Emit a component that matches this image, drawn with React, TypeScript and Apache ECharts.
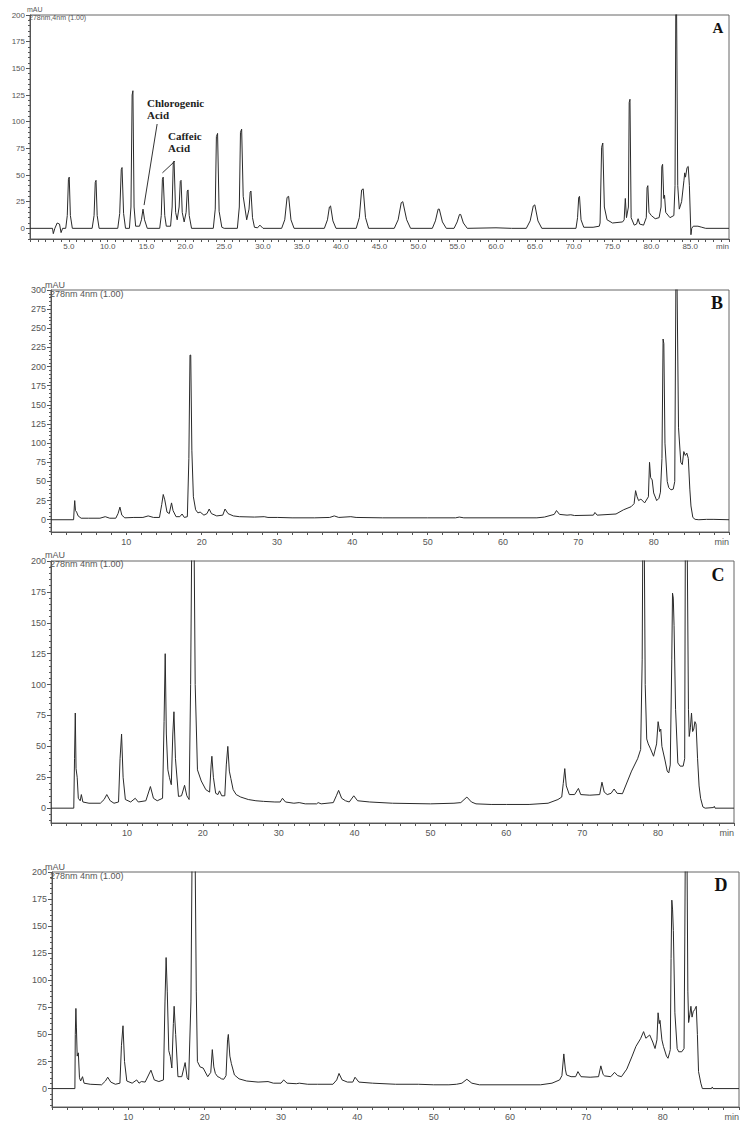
import React, { useEffect, useRef } from "react";
import * as echarts from "echarts";

// ---- Data: [retention time (min), absorbance (mAU)] ----
const traceA: number[][] = [
  [0, 0], [2.9, 0], [3.0, -5], [3.2, 0], [3.5, 5], [3.8, 4], [4.0, -4], [4.2, 0],
  [4.6, 0], [4.8, 12], [4.95, 46], [5.05, 48], [5.2, 12], [5.45, 0],
  [8.0, 0], [8.25, 12], [8.4, 43], [8.5, 45], [8.65, 12], [8.9, 0],
  [11.3, 0], [11.55, 14], [11.75, 55], [11.85, 57], [12.05, 14], [12.3, 0],
  [12.8, 0], [13.0, 20], [13.15, 125], [13.25, 129], [13.4, 20], [13.6, 2],
  [14.1, 2], [14.35, 8], [14.55, 18], [14.75, 8], [15.1, 0],
  [16.7, 0], [16.9, 12], [17.05, 46], [17.15, 48], [17.35, 12], [17.55, 2],
  [18.1, 2], [18.3, 20], [18.45, 62], [18.55, 63], [18.75, 15], [18.95, 8],
  [19.2, 20], [19.35, 44], [19.45, 45], [19.6, 15], [19.85, 6],
  [20.1, 15], [20.25, 35], [20.35, 36], [20.5, 12], [20.8, 0],
  [23.6, 0], [23.85, 18], [24.0, 86], [24.15, 89], [24.35, 16], [24.7, 1], [25.0, 0],
  [26.7, 0], [26.95, 20], [27.1, 90], [27.25, 93], [27.45, 30], [27.9, 8],
  [28.2, 18], [28.35, 34], [28.45, 35], [28.65, 10], [28.9, 1],
  [29.3, 0.5], [29.6, 3], [30.0, 0],
  [32.4, 0], [32.8, 8], [33.1, 29], [33.3, 30], [33.6, 8], [34.0, 0],
  [37.9, 0], [38.3, 8], [38.55, 20], [38.7, 21], [39.0, 7], [39.4, 0],
  [42.0, 0], [42.4, 10], [42.7, 36], [42.9, 37], [43.2, 10], [43.6, 0],
  [46.9, 0], [47.4, 8], [47.8, 24], [48.0, 25], [48.5, 8], [49.0, 0],
  [51.8, 0], [52.2, 7], [52.55, 18], [52.7, 18], [53.1, 6], [53.6, 0],
  [54.6, 0], [55.0, 6], [55.3, 13], [55.45, 13], [55.8, 5], [56.3, 0],
  [60, 0.5], [62, 0],
  [63.9, 0], [64.4, 7], [64.8, 21], [65.0, 22], [65.4, 7], [65.9, 0],
  [70.3, 0], [70.5, 10], [70.65, 29], [70.75, 30], [70.95, 8], [71.3, 1],
  [72.5, 1], [73.3, 2],
  [73.4, 5], [73.6, 76], [73.75, 80], [73.95, 20], [74.3, 8], [75, 5], [76.3, 6],
  [76.5, 8], [76.65, 28], [76.8, 10],
  [77.05, 20], [77.15, 118], [77.25, 121], [77.4, 10], [77.8, 3],
  [78.1, 4], [78.3, 9], [78.5, 4], [79.0, 3],
  [79.35, 10], [79.45, 38], [79.55, 40], [79.7, 15], [80.0, 12], [80.5, 9], [81.0, 10],
  [81.25, 20], [81.35, 58], [81.45, 60], [81.6, 28], [81.7, 31], [81.85, 15], [82.4, 10], [82.9, 12],
  [83.05, 40], [83.15, 205], [83.25, 205], [83.4, 40], [83.6, 18], [83.9, 25], [84.2, 45],
  [84.3, 52], [84.4, 48], [84.6, 57], [84.75, 58], [84.9, 40], [85.05, 5], [85.1, -6],
  [85.2, 0], [85.4, 2], [86.0, 2], [86.5, 1], [87, 0], [90, 0],
];

const traceB: number[][] = [
  [0, 0], [3.0, 0], [3.1, 18], [3.15, 25], [3.25, 12], [3.4, 10], [3.6, 5], [4.0, 2], [5, 2],
  [6.5, 2], [7.2, 4], [7.8, 2], [8.6, 2], [8.9, 8], [9.15, 16.5], [9.4, 6], [9.8, 2.5],
  [11, 3], [12.2, 3], [12.9, 5], [13.6, 3], [14.4, 3], [14.7, 20], [14.9, 33], [15.1, 26],
  [15.4, 10], [15.7, 8], [16.0, 22], [16.2, 12], [16.6, 4], [17.1, 4], [17.4, 7.5], [17.7, 3],
  [18.1, 4], [18.3, 80], [18.45, 215], [18.55, 215], [18.7, 90], [18.9, 30], [19.2, 13],
  [19.5, 9], [19.8, 10], [20.3, 6], [20.7, 8], [21.0, 14], [21.3, 8], [22, 5], [22.8, 6],
  [23.1, 14], [23.5, 8], [24.2, 5], [25, 4], [27, 3.5], [28.3, 4], [28.8, 3], [30.1, 3],
  [32, 2.5], [35, 2.5], [37, 3], [37.6, 5], [38.2, 3], [39.8, 4], [40.5, 3], [44, 2.5],
  [50, 2.5], [53.7, 2.5], [54.2, 3.5], [54.8, 2.5], [60, 2.5], [64.5, 2.5], [65.5, 3.5],
  [66.8, 7], [67.1, 12], [67.5, 7], [68.5, 6], [69, 6.5], [69.5, 5.5], [72, 6], [72.2, 9.5],
  [72.5, 6], [75, 7.5], [76, 13], [77, 17], [77.4, 21], [77.6, 38], [77.8, 30], [78.0, 25],
  [78.3, 27], [78.8, 22], [79.3, 30], [79.45, 75], [79.6, 55], [79.8, 52], [80.0, 35],
  [80.4, 25], [80.7, 28], [80.9, 36], [81.1, 80], [81.25, 236], [81.35, 230], [81.5, 100],
  [81.8, 50], [82.0, 42], [82.3, 39], [82.6, 40], [82.8, 50], [82.95, 310], [83.1, 310],
  [83.3, 120], [83.6, 75], [83.8, 72], [84.0, 89], [84.2, 84], [84.4, 87], [84.6, 80],
  [84.8, 40], [84.95, 18], [85.2, 3], [85.5, 0.5], [86, 0], [87, 0.5], [88, 0.5], [90, 0],
];

const traceC: number[][] = [
  [0, 0], [3.0, 0], [3.1, 40], [3.2, 77], [3.3, 32], [3.45, 25], [3.6, 8], [3.85, 6], [4.0, 11],
  [4.2, 5], [5, 4], [6.5, 4], [7.0, 7], [7.35, 11], [7.8, 6], [8.3, 4], [8.9, 5], [9.1, 40],
  [9.3, 60], [9.5, 25], [9.8, 7], [10.5, 5], [11.1, 8], [11.5, 5], [12.5, 6], [13.1, 17.5],
  [13.5, 8], [14.0, 6], [14.7, 8], [14.9, 70], [15.05, 125], [15.2, 60], [15.4, 31], [15.6, 25],
  [15.85, 19], [16.05, 60], [16.2, 78], [16.4, 40], [16.8, 9.5], [17.2, 10], [17.6, 18.5],
  [17.9, 10], [18.2, 7], [18.4, 100], [18.6, 260], [18.8, 260], [19.0, 100], [19.3, 31],
  [19.8, 22], [20.4, 15], [20.9, 13], [21.1, 35], [21.2, 42], [21.4, 25], [21.7, 12], [22.0, 11],
  [22.2, 14], [22.5, 10], [22.9, 10], [23.1, 35], [23.3, 50], [23.5, 30], [23.7, 24], [24.0, 15],
  [24.4, 11], [25, 9], [26, 7], [27, 6], [28, 5.5], [29.5, 5], [30.2, 5], [30.5, 8], [30.9, 5],
  [32, 4], [32.7, 4.5], [33.5, 3.5], [35, 3.5], [35.2, 4.5], [35.6, 3.5], [37.2, 4.5], [37.6, 10],
  [37.9, 14.4], [38.3, 8], [38.8, 6], [39.3, 5], [39.9, 10], [40.4, 6], [42, 5], [45, 4], [50, 3.5],
  [53.1, 4], [54, 4.5], [54.8, 9], [55.4, 5], [56, 3.5], [58, 3], [60, 3], [63, 3], [65.5, 4],
  [66.8, 7], [67.3, 9], [67.5, 20], [67.7, 32], [67.9, 18], [68.3, 11], [69, 11], [69.5, 16],
  [69.8, 11], [71, 10.5], [72.3, 11], [72.6, 21], [72.9, 13], [73.3, 11], [73.8, 12], [74.2, 15.5],
  [74.6, 12], [75.3, 11.7], [76.5, 30], [77.3, 40], [77.7, 47.5], [77.9, 120], [78.0, 240],
  [78.15, 240], [78.3, 100], [78.5, 56], [78.7, 52], [79.0, 48], [79.4, 42], [79.8, 52], [80.0, 70],
  [80.2, 62], [80.35, 64], [80.5, 50], [80.9, 39], [81.2, 30], [81.4, 28.5], [81.6, 35], [81.8, 120],
  [81.9, 174], [82.0, 170], [82.1, 148], [82.3, 80], [82.6, 36.6], [82.9, 34], [83.3, 34], [83.5, 40],
  [83.6, 240], [83.8, 240], [84.0, 80], [84.1, 58], [84.25, 65], [84.4, 77], [84.55, 62], [84.7, 64],
  [84.85, 70], [85.0, 68], [85.2, 40], [85.4, 18], [85.6, 8], [85.9, 1], [86.2, 0], [87.3, 0.5],
  [87.4, 1.5], [87.5, 0], [90, 0],
];

const traceD: number[][] = [
  [0, 0], [3.0, 0], [3.05, 50], [3.13, 74], [3.2, 56], [3.3, 30], [3.45, 33], [3.6, 10], [3.75, 7],
  [4.0, 11], [4.2, 5], [5, 4], [6.5, 3.5], [7.0, 7], [7.3, 10.5], [7.7, 6], [8.3, 4], [8.9, 5],
  [9.1, 40], [9.3, 58], [9.5, 25], [9.8, 7], [10.5, 5], [11.1, 8], [11.4, 5], [11.7, 6.5], [12.2, 6],
  [12.96, 17], [13.4, 8], [14.0, 6.5], [14.6, 8], [14.8, 80], [14.95, 121], [15.1, 90], [15.3, 35],
  [15.5, 29.5], [15.7, 19], [15.9, 60], [16.0, 76], [16.2, 50], [16.5, 11], [17.0, 11], [17.44, 24],
  [17.7, 10], [17.9, 8], [18.2, 80], [18.4, 260], [18.7, 260], [18.9, 90], [19.05, 25], [19.4, 20],
  [19.8, 19], [20.4, 11], [20.8, 15], [21.0, 36], [21.2, 20], [21.4, 14], [21.7, 11], [21.9, 10.5],
  [22.2, 9], [22.5, 8.6], [22.8, 12], [23.0, 45], [23.1, 50], [23.3, 30], [23.5, 23], [23.9, 12.6],
  [24.5, 9], [25.5, 7], [27, 6], [28.3, 6.5], [29, 5], [30, 5], [30.35, 8], [30.8, 5], [32, 4.5],
  [32.4, 5], [33.5, 4], [34.8, 4], [36.8, 4], [37.3, 8], [37.6, 14], [38.0, 8], [38.7, 6], [39.4, 6],
  [39.7, 10.5], [40.2, 6], [42, 5], [45, 4], [48, 4], [50, 3.5], [52, 3.5], [53, 4], [53.7, 5],
  [54.35, 8.6], [55.0, 5], [56, 3.5], [60, 3.5], [64, 3.5], [65.5, 5], [66.5, 8], [66.8, 12],
  [67.05, 32], [67.25, 18], [67.4, 12.6], [68, 11], [68.6, 11], [68.9, 15.7], [69.3, 11], [70.5, 10.5],
  [71.6, 11], [71.9, 21], [72.2, 13], [72.4, 11.7], [73.2, 11], [73.7, 15], [74.1, 12], [74.6, 11],
  [75.3, 18], [76.0, 30], [76.5, 39], [77.1, 46], [77.5, 52.6], [77.8, 46.5], [78.3, 49.5], [78.7, 43],
  [79.0, 37], [79.25, 45], [79.4, 70], [79.55, 60], [79.65, 63], [79.9, 45], [80.1, 39], [80.5, 30],
  [80.7, 28], [80.9, 33], [81.0, 36], [81.1, 120], [81.2, 174], [81.3, 165], [81.4, 146], [81.6, 70],
  [81.9, 37], [82.1, 34], [82.5, 34], [82.8, 37], [82.9, 140], [83.0, 260], [83.15, 260], [83.3, 90],
  [83.4, 61], [83.55, 68], [83.7, 76], [83.85, 66], [84.0, 71], [84.2, 73], [84.4, 76], [84.55, 50],
  [84.7, 15.7], [85.0, 5], [85.2, 0], [86.4, 0], [86.5, 1.5], [86.6, 0], [90, 0],
];

// ---- Tick labels ----
const yTicksA = [0, 25, 50, 75, 100, 125, 150, 175, 200];
const yTicksB = [0, 25, 50, 75, 100, 125, 150, 175, 200, 225, 250, 275, 300];
const yTicksC = [0, 25, 50, 75, 100, 125, 150, 175, 200];
const yTicksD = [0, 25, 50, 75, 100, 125, 150, 175, 200];
const panelLetters = ["A", "B", "C", "D"];
const detectorTexts = ["278nm,4nm (1.00)", "278nm 4nm (1.00)", "278nm 4nm (1.00)", "278nm 4nm (1.00)"];

const AXIS = "#555";
const LINE = "#2a2a2a";

function minorTicks(min: number, max: number): number[] {
  const out: number[] = [];
  for (let v = Math.ceil(min / 5) * 5; v <= max; v += 5) out.push(v);
  return out;
}

export default function App() {
  const ref = useRef<HTMLDivElement>(null);
  useEffect(() => {
    if (!ref.current) return;
    const chart = echarts.init(ref.current, null, { renderer: "svg" });

    const panels = [
      { left: 30, top: 15, width: 699, height: 224, ymin: -10, ymax: 200, yt: yTicksA, xint: 5, data: traceA, fs: 8, letter: [718, 28, 15], hdr: [27, 9, 29, 17, 7] },
      { left: 51, top: 290, width: 678, height: 242, ymin: -16, ymax: 300, yt: yTicksB, xint: 10, data: traceB, fs: 9, letter: [717, 303, 18], hdr: [45, 285, 50, 294, 9] },
      { left: 51, top: 561, width: 683, height: 262, ymin: -12, ymax: 200, yt: yTicksC, xint: 10, data: traceC, fs: 9, letter: [718, 575, 18], hdr: [45, 555, 50, 564, 9] },
      { left: 52, top: 872, width: 687, height: 235, ymin: -17, ymax: 200, yt: yTicksD, xint: 10, data: traceD, fs: 9, letter: [721, 885, 18], hdr: [45, 867, 50, 876, 9] },
    ];

    const grid: any[] = [];
    const xAxis: any[] = [];
    const yAxis: any[] = [];
    const series: any[] = [];
    const graphic: any[] = [];

    panels.forEach((p, i) => {
      grid.push({ left: p.left, top: p.top, width: p.width, height: p.height, show: true, borderColor: "#666", borderWidth: 1, backgroundColor: "transparent" });
      xAxis.push({
        type: "value", gridIndex: i, min: 0, max: 90, interval: p.xint,
        axisLine: { show: true, onZero: false, lineStyle: { color: AXIS, width: 1 } },
        axisTick: { show: true, length: 3, lineStyle: { color: AXIS } },
        minorTick: { show: true, splitNumber: 5, length: 3, lineStyle: { color: AXIS } },
        splitLine: { show: false },
        axisLabel: {
          fontSize: p.fs, color: AXIS, fontFamily: "Arial, Liberation Sans, sans-serif",
          margin: i === 0 ? 3 : 5, showMaxLabel: true, alignMaxLabel: "right",
          formatter: (v: number) => (v === 0 ? "" : v === 90 ? "min" : i === 0 ? v.toFixed(1) : String(v)),
        },
      });
      yAxis.push({
        type: "value", gridIndex: i, min: p.ymin, max: p.ymax, position: "left",
        axisLine: { show: true, onZero: false, lineStyle: { color: AXIS, width: 1 } },
        axisTick: { show: true, length: 4, customValues: p.yt, lineStyle: { color: AXIS } },
        axisLabel: { customValues: p.yt, fontSize: p.fs, color: AXIS, margin: 5, fontFamily: "Arial, Liberation Sans, sans-serif" },
        splitLine: { show: false },
      });
      yAxis.push({
        type: "value", gridIndex: i, min: p.ymin, max: p.ymax, position: "left",
        axisLine: { show: false },
        axisTick: { show: true, length: 2, customValues: minorTicks(p.ymin, p.ymax), lineStyle: { color: AXIS } },
        axisLabel: { show: false },
        splitLine: { show: false },
      });
      const s: any = {
        type: "line", xAxisIndex: i, yAxisIndex: 2 * i, data: p.data, showSymbol: false,
        symbol: "none", clip: true, lineStyle: { color: LINE, width: 1 }, silent: true,
      };
      if (i === 0) {
        s.markLine = {
          silent: true, symbol: ["none", "none"], label: { show: false },
          lineStyle: { color: "#333", width: 1, type: "solid" },
          data: [
            [{ coord: [16.37, 97.8] }, { coord: [14.69, 21.8] }],
            [{ coord: [18.66, 63] }, { coord: [17.05, 52] }],
          ],
        };
      }
      series.push(s);

      const [lx, ly, lfs] = p.letter;
      graphic.push({ type: "text", x: lx, y: ly, style: { text: panelLetters[i], fontSize: lfs, fontWeight: "bold", fontFamily: "Liberation Serif, Times New Roman, serif", fill: "#111", align: "center", verticalAlign: "middle" } });
      const [mx, my, dx, dy, hfs] = p.hdr;
      graphic.push({ type: "text", x: mx, y: my, style: { text: "mAU", fontSize: hfs, fontFamily: "Arial, Liberation Sans, sans-serif", fill: AXIS, align: "left", verticalAlign: "middle" } });
      graphic.push({ type: "text", x: dx, y: dy, style: { text: detectorTexts[i], fontSize: hfs, fontFamily: "Arial, Liberation Sans, sans-serif", fill: AXIS, align: "left", verticalAlign: "middle" } });
    });

    const annFont = { fontSize: 11, fontWeight: "bold", fontFamily: "Liberation Serif, Times New Roman, serif", fill: "#222", align: "left", verticalAlign: "middle" };
    graphic.push({ type: "text", x: 147, y: 103, style: { ...annFont, text: "Chlorogenic" } });
    graphic.push({ type: "text", x: 147, y: 115, style: { ...annFont, text: "Acid" } });
    graphic.push({ type: "text", x: 168, y: 136, style: { ...annFont, text: "Caffeic" } });
    graphic.push({ type: "text", x: 168, y: 148, style: { ...annFont, text: "Acid" } });

    chart.setOption({
      animation: false,
      backgroundColor: "#fff",
      grid, xAxis, yAxis, series, graphic,
    });
    return () => chart.dispose();
  }, []);

  return <div ref={ref} style={{ position: "absolute", left: 0, top: 0, width: 753, height: 1135 }} />;
}
